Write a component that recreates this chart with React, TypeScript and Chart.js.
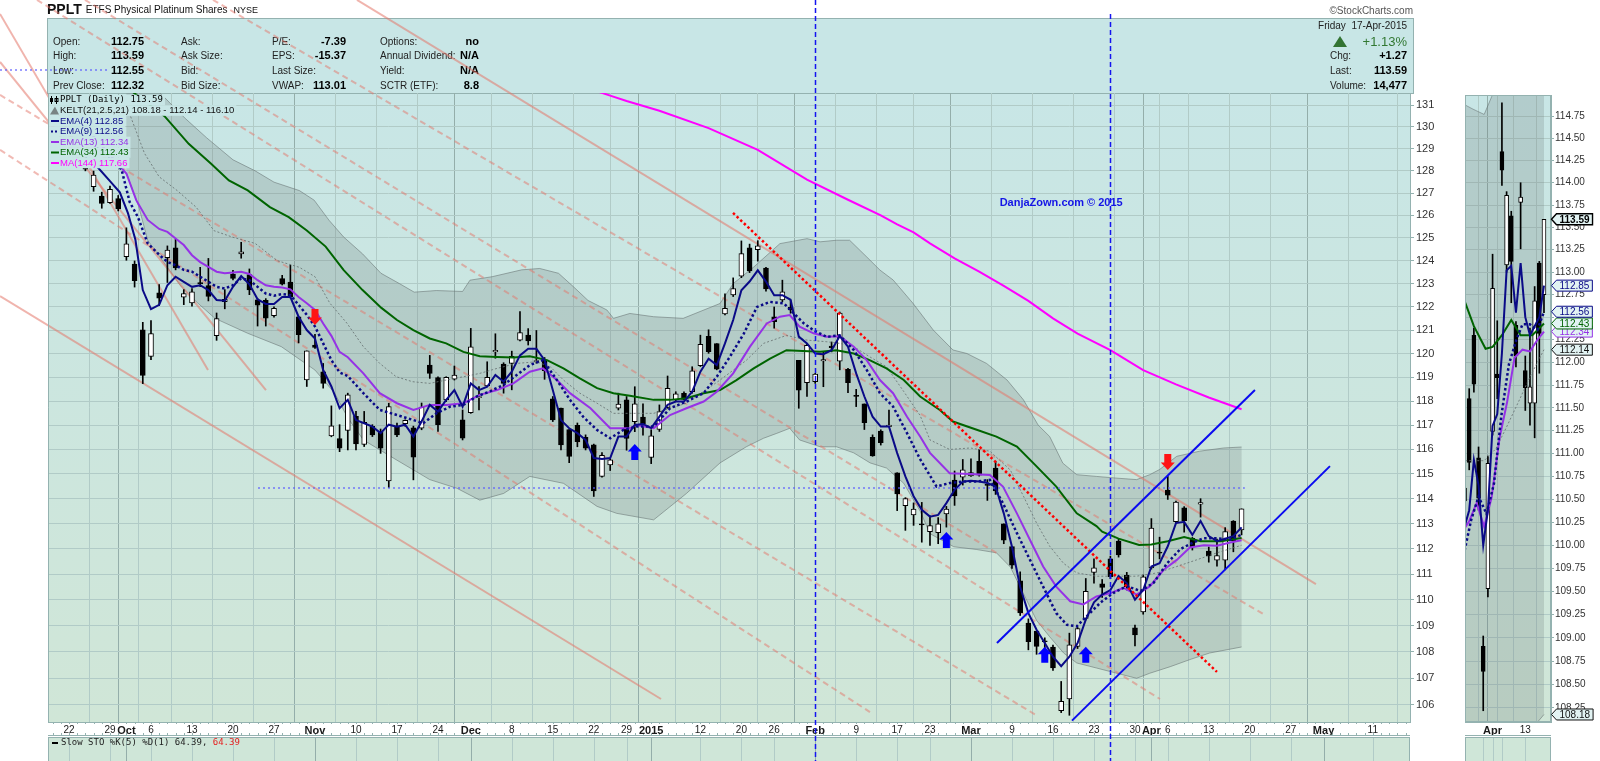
import React, { useEffect, useRef } from 'react';
import { Chart, registerables } from 'chart.js';

Chart.register(...registerables);

// ---------------- DATA ----------------
// trading-day index 0 = Mon 22-Sep-2014; candles start at index 2
const FIRST_INDEX = 2;
const opens = [
  128.12,127.29,126.86,126.57,126.75,124.18,123.85,121.01,119.88,122.6,
  124.13,124.56,122.41,122.16,123.04,122.91,120.76,122.22,123.41,124.3,
  123.39,122.3,122.28,121.62,123.22,123.07,121.56,118.88,120.36,119.23,
  116.56,116.45,116.78,117.37,116.21,116.95,116.74,114.72,116.95,117.06,
  116.89,116.88,119.51,118.98,118.05,118.92,117.22,117.52,118.14,118.63,
  120.07,119.55,119.58,120.57,120.78,119.65,119.72,118.09,117.71,116.82,
  116.99,116.5,116.19,114.9,115.37,117.7,118.05,117.14,117.33,115.67,
  116.82,117.74,118.05,118.32,118.39,119.49,120.73,120.42,121.69,122.51,
  123.32,124.57,124.49,123.68,121.57,122.29,121.97,119.71,118.77,118.81,
  119.69,120.31,119.68,119.33,118.24,117.88,116.5,116.76,116.94,115.05,
  113.72,113.35,112.98,112.68,112.64,113.39,114.75,114.87,114.92,115.51,
  114.58,115.24,112.99,112.09,110.74,109.1,108.79,108.42,108.18,105.77,
  106.21,108.2,109.28,111.07,110.62,111.6,112.3,110.95,108.91,109.53,
  111.24,111.87,114.35,113.08,113.63,112.41,113.78,111.91,111.55,111.55,
  113.1,112.75,
];
const highs = [
  128.24,127.99,127.04,127.31,126.89,125.45,123.99,121.33,121.4,122.96,
  124.65,124.94,122.74,122.78,123.71,124.1,121.73,122.74,123.58,124.81,
  123.64,122.35,122.35,122.0,123.36,123.81,121.59,120.11,120.82,119.58,
  117.8,117.02,118.33,117.57,117.57,117.02,116.84,117.91,117.09,117.22,
  116.96,117.92,119.92,119.02,119.02,119.47,117.63,121.07,118.61,119.65,
  120.84,119.61,120.1,121.79,121.06,120.98,119.83,118.19,117.71,116.82,
  117.09,116.6,116.22,115.87,115.61,118.33,118.19,118.6,117.88,116.81,
  117.84,119.05,118.39,118.39,119.44,120.78,121.01,120.42,122.56,123.25,
  124.87,124.73,124.88,123.71,121.99,123.15,122.27,119.71,120.43,119.16,
  120.06,120.49,121.77,119.37,118.49,117.88,116.6,116.81,117.63,115.05,
  114.04,113.83,113.85,113.31,113.24,113.69,115.12,115.59,115.62,116.0,
  114.77,115.52,112.99,112.09,111.09,109.26,108.79,108.53,108.25,106.87,
  108.71,108.93,110.83,111.6,110.79,111.71,112.38,111.07,109.02,110.97,
  113.2,112.46,114.9,113.9,113.68,112.45,114.0,112.07,112.38,112.84,
  113.12,113.59,
];
const lows = [
  128.0,127.08,126.32,126.54,126.2,124.02,122.85,118.73,119.74,122.05,
  123.05,123.6,122.09,122.02,122.87,122.25,120.56,121.91,123.16,124.11,
  122.52,121.17,121.17,121.55,122.94,122.38,120.45,118.61,120.22,118.54,
  116.52,115.91,115.98,115.98,116.12,116.53,115.84,114.45,116.53,116.95,
  114.76,116.81,118.95,116.74,117.98,118.88,116.39,117.49,117.63,118.6,
  119.8,118.33,118.47,120.53,120.36,119.59,118.91,117.15,115.98,115.46,
  116.11,115.98,114.09,114.87,115.14,117.63,115.97,116.73,116.59,115.42,
  116.74,117.7,117.98,118.05,118.33,119.45,120.01,119.31,121.65,122.44,
  123.26,123.48,123.98,122.67,121.08,122.22,121.72,117.7,118.19,118.74,
  118.6,120.07,119.31,118.35,117.77,116.82,115.72,116.18,116.94,113.52,
  112.73,112.93,112.26,112.13,112.2,112.86,113.73,114.55,114.9,114.91,
  113.93,114.17,112.2,111.22,109.39,108.07,107.9,108.04,107.29,105.7,
  105.6,108.12,109.22,110.65,110.09,110.82,111.67,110.38,108.22,109.44,
  111.2,111.6,113.97,113.0,112.66,111.95,113.26,111.47,111.31,111.17,
  111.88,112.55,
];
const closes = [
  128.08,127.81,126.53,127.17,126.29,124.74,123.13,119.07,120.85,122.37,
  124.47,123.68,122.57,122.64,122.99,122.44,121.49,122.32,123.23,124.39,
  122.73,122.07,121.51,121.93,122.98,122.43,120.8,120.11,120.26,118.74,
  116.97,116.05,118.26,116.23,117.12,116.6,116.05,117.77,116.6,117.2,
  115.68,117.75,119.16,117.02,118.99,119.09,116.46,120.28,118.19,118.99,
  120.13,118.74,119.88,120.89,120.54,119.7,119.27,117.22,116.19,115.71,
  116.32,116.05,114.31,115.76,115.58,117.87,116.45,117.88,117.05,116.56,
  117.56,118.53,118.3,118.07,119.27,120.39,120.08,119.34,121.93,122.79,
  124.31,123.55,124.65,122.77,121.36,122.64,121.86,118.46,120.35,119.13,
  119.74,120.25,121.73,118.77,118.19,117.1,115.74,116.28,117.0,114.19,
  114.0,113.58,112.95,112.92,112.99,113.58,114.11,115.17,115.06,114.95,
  114.54,114.31,112.34,111.35,109.49,108.38,108.2,108.38,107.38,106.12,
  108.26,108.89,110.33,111.25,110.48,110.9,111.76,110.51,108.64,110.89,
  112.82,111.83,114.14,113.86,113.12,112.07,113.84,111.72,111.73,112.68,
  112.32,113.59,
];

// overlay readings: [trading-day index, price]
const ema4: number[][] = [[2,128.6],[3.5,128.16],[5,127.54],[6.2,127.03],[7.2,126.09],[8.1,124.92],[9,122.72],[10,121.9],[11,122.08],[12,122.93],[13,123.3],[14,123.08],[15,122.86],[16,122.93],[17,122.72],[18,122.29],[19,122.26],[20,122.86],[21,123.33],[22,122.97],[23,122.32],[24,122.12],[25,122.12],[26,122.42],[27,122.42],[28,121.57],[29,121.0],[30,120.64],[31,119.3],[32,118.61],[33,117.7],[34,118.05],[35,117.21],[36,117.08],[37,116.94],[38,116.67],[39,117.02],[40,116.94],[41,117.02],[42,116.53],[43,117.15],[44,117.84],[45,117.56],[46,118.05],[47,118.46],[48,117.77],[49,118.74],[50,118.46],[51,118.6],[52,119.09],[53,118.81],[54,119.23],[55,119.92],[56,120.2],[57,120.2],[58,119.72],[59,118.46],[60,117.21],[61,116.87],[62,116.67],[63,116.39],[64,115.65],[65,115.61],[66,115.65],[67,116.53],[68,116.53],[69,117.01],[70,117.05],[71,116.88],[72,117.35],[73,117.84],[74,117.98],[75,117.98],[76,118.39],[77,119.23],[78,119.78],[79,119.51],[80,120.43],[81,121.43],[82,122.71],[83,123.09],[84,123.58],[85,123.09],[86,122.5],[87,122.5],[88,122.3],[89,120.72],[90,120.43],[91,120.0],[92,119.97],[93,120.14],[94,120.74],[95,120.29],[96,119.16],[97,118.19],[98,117.35],[99,116.94],[100,116.94],[101,115.85],[102,114.9],[103,114.1],[104,113.55],[105,113.28],[106,113.35],[107,113.82],[108,114.36],[109,114.69],[110,114.72],[111,114.69],[112,114.63],[113,114.49],[114,113.41],[115,112.08],[116,110.5],[117,109.48],[118,108.84],[119,108.33],[120,107.81],[121,107.45],[122,107.81],[123,108.33],[124,109.23],[125,109.9],[126,110.2],[127,110.38],[128,110.93],[129,110.65],[130,110.0],[131,110.38],[132,111.3],[133,111.43],[134,112.1],[135,113.02],[136,113.07],[137,112.55],[138,113.1],[139,112.5],[140,112.3],[141,112.4],[142,112.5],[143,112.85]];
const ema9: number[][] = [[2,129.5],[6.4,128.07],[7.4,126.6],[8.4,125.93],[9.6,124.76],[11,124.26],[12,123.95],[13,123.8],[14,123.6],[15,123.52],[16,123.3],[17,123.08],[18,122.86],[19,122.79],[20,122.93],[21,123.23],[22,123.15],[23,122.86],[24,122.57],[25,122.48],[26,122.55],[27,122.5],[28,122.08],[29,121.65],[30,121.15],[31,120.43],[32,119.72],[33,119.2],[34,119.05],[35.9,118.33],[37.9,117.63],[40,117.42],[42,117.21],[43.2,117.08],[44.8,117.49],[46.5,117.77],[48.1,117.84],[49.7,118.19],[51.3,118.4],[53,118.68],[54.6,119.09],[56.2,119.51],[57.8,119.72],[59.5,118.88],[61.1,118.05],[62.7,117.35],[64.4,116.8],[66,116.46],[67.6,116.8],[69.2,116.94],[71.3,116.94],[73.3,117.7],[75.3,117.98],[77.4,118.33],[79,119.02],[80.6,119.86],[82.3,120.85],[83.9,121.99],[85.5,122.21],[87.2,122.14],[88.4,121.71],[89.6,121.29],[90.8,120.99],[92.4,120.71],[94,120.77],[95.7,120.15],[97.3,119.3],[98.9,118.33],[100.5,117.77],[102.2,116.67],[103.8,115.6],[105.8,114.49],[107.4,114.63],[109.1,114.69],[110.7,114.69],[112.3,114.76],[113.9,113.82],[115.6,112.62],[117.2,111.56],[118.8,110.51],[120.4,109.48],[121.7,109.03],[122.9,108.97],[124.1,109.36],[125.8,109.89],[127.4,110.27],[129,110.53],[130.7,110.34],[132.3,110.67],[133.9,111.42],[135.5,111.98],[137.1,112.25],[138.4,112.42],[140,112.42],[141.6,112.36],[143,112.56]];
const ema13: number[][] = [[2,130.0],[7,127.88],[8.2,126.68],[9.6,125.8],[11,125.4],[12,125.27],[13,124.98],[14,124.69],[15,124.24],[16,123.94],[17,123.73],[18,123.52],[19,123.45],[20,123.48],[21,123.52],[22,123.42],[23,123.15],[24,122.93],[25,122.86],[26,122.83],[27,122.75],[28,122.42],[29,122.15],[30,121.86],[31,121.28],[32,120.75],[33,120.07],[34,119.84],[35.9,119.16],[37.9,118.33],[40,117.91],[42,117.63],[44,117.84],[46,117.84],[48.1,117.91],[50.1,118.26],[52.2,118.46],[54.2,118.74],[56.2,119.23],[57.8,119.37],[59.5,118.88],[61.1,118.33],[63.6,117.7],[66,116.87],[68.4,116.87],[69.2,117.01],[71.3,116.88],[73.3,117.42],[75.3,117.7],[77.4,117.98],[79,118.39],[81,119.16],[83.05,120.29],[85.1,121.28],[86.7,121.57],[87.9,121.64],[89.1,121.14],[90.8,120.86],[92.4,120.71],[94,120.73],[95.7,120.29],[97.3,119.71],[98.9,118.88],[100.5,118.33],[102.2,117.35],[103.8,116.53],[105,115.86],[107.4,115.03],[109.9,115.0],[112.3,114.96],[113.9,114.49],[115.6,113.41],[117.2,112.35],[118.8,111.3],[120.4,110.51],[122.1,109.94],[123.7,109.82],[125.3,110.13],[127,110.26],[128.6,110.46],[130.2,110.2],[131.8,110.52],[133.5,111.17],[135.1,111.56],[136.7,112.05],[138.4,112.14],[140,112.12],[141.6,112.25],[143,112.34]];
const ema34: number[][] = [[2,133.3],[11.65,130.5],[14.6,129.23],[17.3,128.33],[19.5,127.57],[21.8,127.12],[24.5,126.37],[26.8,125.92],[29,125.33],[31.3,124.62],[33.5,123.59],[35.8,122.72],[38.1,121.95],[40,121.43],[42,121.0],[44,120.64],[46,120.43],[48.1,120.07],[50.1,119.88],[52.2,119.85],[54.2,119.83],[56.2,119.88],[58.3,119.72],[60.3,119.37],[62.3,118.95],[64.4,118.54],[66.4,118.33],[68.4,118.22],[71.3,118.05],[73.3,118.05],[75.3,118.12],[77.4,118.33],[79.4,118.46],[81.4,118.88],[83.5,119.37],[85.5,119.78],[87.5,120.14],[89.5,120.11],[91.6,120.07],[93.6,120.14],[95.7,120.0],[97.7,119.71],[99.7,119.37],[101.8,118.88],[103.8,118.19],[106.2,117.63],[107.8,117.15],[110.7,116.81],[113.1,116.53],[115.6,116.12],[118,115.31],[120.4,114.49],[122.9,113.41],[125.3,112.9],[126,112.68],[128,112.4],[130.5,112.15],[132,112.17],[134,112.3],[136,112.47],[138,112.3],[140.5,112.3],[143,112.43]];
const ma144: number[][] = [[64,131.7],[66,131.45],[68,131.2],[72,130.75],[78,129.95],[84,128.95],[90,127.6],[95,126.7],[99,126.0],[101,125.6],[103,125.25],[105,124.76],[108,124.1],[111,123.52],[114,122.9],[117,122.25],[120,121.5],[123,120.85],[127,120.14],[131,119.3],[135,118.7],[139,118.15],[143,117.66]];
const keltUpper: number[][] = [[7,133.5],[10,132.0],[14.1,130.42],[16.8,129.5],[20,128.5],[22.7,128.0],[25,127.49],[28.1,127.11],[29.9,126.68],[31.7,125.79],[33.5,125.04],[35.8,124.3],[38.05,123.45],[40.3,123.0],[42.1,122.63],[44.8,122.7],[48,122.66],[48.9,123.15],[51.6,123.3],[55.2,123.6],[57.4,123.66],[59.7,123.45],[61.5,122.87],[63.3,122.27],[65.6,121.86],[66.4,121.5],[68.4,121.71],[71.3,121.57],[74.9,121.5],[79.4,122.14],[81,123.0],[83.5,123.72],[86.7,124.75],[90,124.97],[91.6,124.83],[93.6,124.9],[95.2,124.9],[97.3,124.16],[98.9,123.59],[100.5,123.16],[102.9,122.16],[105.4,121.0],[107.8,120.15],[109.5,120.0],[111.9,119.58],[114.4,118.88],[116.4,118.05],[118.2,117.0],[119.6,116.53],[121.2,115.44],[122.9,114.97],[125.3,114.9],[127.8,114.83],[130.2,114.77],[131.8,114.97],[133,115.18],[135.1,115.72],[137.9,115.93],[140.8,116.06],[143,116.1]];
const keltMid: number[][] = [[7,131.0],[9.2,128.8],[11,127.73],[13.2,127.11],[15.5,126.37],[17.7,125.32],[20,125.03],[22.7,124.76],[25.4,124.0],[28.1,123.71],[30,123.3],[31.8,122.16],[33.9,121.29],[35.9,120.29],[37.9,119.58],[39.9,119.02],[41.9,118.81],[44,118.74],[46,118.88],[48.1,119.02],[50.1,119.16],[52.2,119.37],[54.6,119.58],[57,119.65],[58.7,119.44],[60.3,118.88],[62.3,118.33],[64.4,117.91],[66.4,117.49],[68.4,117.49],[71.3,117.49],[75.3,117.91],[79.4,118.88],[82.6,119.71],[84.7,120.43],[87.5,120.77],[90,120.57],[92.4,120.5],[94,120.43],[95.7,120.29],[97.7,119.85],[99.7,119.44],[101.8,118.4],[103.8,117.4],[105,116.39],[107.4,116.0],[109.9,116.06],[112.3,115.93],[114.8,115.16],[116.4,114.1],[118,113.02],[119.6,112.1],[121.3,111.42],[122.9,111.05],[125.3,110.92],[127.8,110.92],[130.2,110.92],[132.7,111.05],[135.1,111.3],[137.5,111.56],[140,111.84],[143,112.14]];
const keltLower: number[][] = [[7,127.9],[8.5,126.4],[9.6,124.9],[13.7,122.86],[15.7,122.16],[17.8,121.5],[21.8,120.86],[25.9,120.29],[30,119.3],[32.4,118.33],[34,117.3],[35.9,116.39],[39.9,115.58],[44,114.77],[47.3,114.42],[50.1,113.94],[53,114.21],[56.2,114.9],[60.3,114.62],[64.4,113.69],[66.8,113.41],[71.3,113.15],[75.3,114.21],[79.4,115.45],[82.6,116.11],[84.7,116.46],[86.3,116.66],[87.9,116.87],[89.1,116.39],[91.6,116.11],[93.6,116.11],[95.7,115.86],[97.7,115.45],[99.7,115.24],[101.8,114.62],[103.8,113.5],[105,112.6],[107.9,112.08],[110.7,111.97],[113.1,111.84],[114.8,111.28],[116.4,110.24],[118,109.2],[119.6,108.57],[121.3,107.95],[122.9,107.57],[125.3,107.38],[127.8,107.18],[130.2,106.99],[131.8,107.18],[134.3,107.43],[136.7,107.7],[139.1,107.95],[143,108.18]];

// drawn trend lines: [idx1, price1, idx2, price2]
const pinkSolidLines = [[-8.41,135.3,16.95,119.3],[-8.41,133.02,24.02,118.46],[-8.41,122.46,72.2,106.21],[35.12,135.97,152.07,110.61]];
const pinkDashedLines = [[-3.9,135.97,133.05,106.21],[-8.41,131.48,117.93,105.61],[-8.41,128.95,97.68,105.72],[17.56,135.97,145.85,109.41],[1.95,135.97,113.5,111.76]];
const redDottedLines = [[80.98,126.11,140.0,107.23]];
const blueChannelLines = [[113.17,108.33,144.63,118.46],[122.32,105.4,153.78,115.32]];
const blueDottedLines = [[23.05,114.43,143.4,114.43],[-8.41,132.64,5.0,132.64]];
const blueDashedVerticals = [91, 127];
const upArrowIdx = [69, 107, 119, 124];
const upArrowPrice = [115.9, 112.35, 107.88, 107.88];
const downArrowIdx = [30, 134];
const downArrowPrice = [121.56, 115.49];
const watermark = { idx: 121.0, price: 126.55, text: 'DanjaZown.com \u00a9 2015' };

// axes
const dateTickIdx = [0,5,7,10,15,20,25,30,35,40,45,49,54,59,64,68,71,77,82,86,91,96,101,105,110,115,120,125,130,132,134,139,144,149,153,159];
const dateTickLabels = ['22','29','Oct','6','13','20','27','Nov','10','17','24','Dec','8','15','22','29','2015','12','20','26','Feb','9','17','23','Mar','9','16','23','30','Apr','6','13','20','27','May','11'];
const priceTicks = [106,107,108,109,110,111,112,113,114,115,116,117,118,119,120,121,122,123,124,125,126,127,128,129,130,131];
const insetTickIdx = [130,132,134,139];
const insetTickLabels = ['','Apr','','13'];
const insetPriceTicks = [108.25,108.5,108.75,109,109.25,109.5,109.75,110,110.25,110.5,110.75,111,111.25,111.5,111.75,112,112.25,112.5,112.75,113,113.25,113.5,113.75,114,114.25,114.5,114.75];
const MONTHS = new Set(['Oct','Nov','Dec','2015','Feb','Mar','Apr','May']);

// ---------------- STYLE ----------------
const SANS = '"Liberation Sans", Arial, sans-serif';
const NARROW = '"Liberation Sans Narrow", "Liberation Sans", Arial, sans-serif';
const MONO = '"DejaVu Sans Mono", "Liberation Mono", monospace';
const PANEL_TOP = 'rgb(200,230,230)';
const PANEL_BOTTOM = 'rgb(208,230,215)';
const GRID = 'rgb(177,203,199)';
const GRID_DARK = 'rgb(148,174,170)';
const FRAME = 'rgb(148,178,176)';
const NAVY = 'rgb(10,10,135)';
const PURPLE = 'rgb(150,50,230)';
const GREEN = 'rgb(0,100,0)';
const MAGENTA = 'rgb(255,0,255)';

const last = (a: number[][]) => a[a.length - 1][1];
const N = closes.length;
const candleIdx = closes.map((_, k) => FIRST_INDEX + k);
const xy = (pairs: number[][]) => pairs.map(([x, y]) => ({ x, y }));

function buildDatasets(bodyWidth: number, lw: number): any[] {
  return [
    { type: 'line', data: xy(ema4), borderColor: NAVY, borderWidth: lw, pointRadius: 0, order: 1 },
    { type: 'line', data: xy(ema9), borderColor: NAVY, borderWidth: lw + 0.5, borderDash: [2.5, 2.5], pointRadius: 0, order: 2 },
    { type: 'line', data: xy(ema13), borderColor: PURPLE, borderWidth: lw, pointRadius: 0, order: 3 },
    { type: 'line', data: xy(ema34), borderColor: GREEN, borderWidth: lw, pointRadius: 0, order: 4 },
    { type: 'line', data: xy(ma144), borderColor: MAGENTA, borderWidth: 2, pointRadius: 0, order: 5 },
    { type: 'line', data: xy(keltMid), borderColor: 'rgba(105,115,115,0.85)', borderWidth: 1, borderDash: [2, 2], pointRadius: 0, order: 6 },
    {
      type: 'bar', order: 11, grouped: false, barThickness: 1, borderWidth: 0, backgroundColor: '#000',
      data: candleIdx.map((x, k) => ({ x, y: [lows[k], highs[k]] })),
    },
    {
      type: 'bar', order: 10, grouped: false, barThickness: bodyWidth, borderWidth: 1, borderColor: '#000', borderSkipped: false, minBarLength: 1,
      backgroundColor: candleIdx.map((_, k) => (closes[k] >= opens[k] ? '#ffffff' : '#000000')),
      data: candleIdx.map((x, k) => ({ x, y: [Math.min(opens[k], closes[k]), Math.max(opens[k], closes[k])] })),
    },
  ];
}

function drawBand(chart: any) {
  const { ctx, chartArea: a } = chart;
  const sx = chart.scales.x, sy = chart.scales.y;
  ctx.save();
  ctx.beginPath(); ctx.rect(a.left, a.top, a.right - a.left, a.bottom - a.top); ctx.clip();
  ctx.beginPath();
  keltUpper.forEach(([i, v], k) => {
    const X = sx.getPixelForValue(i), Y = sy.getPixelForValue(v);
    if (k === 0) ctx.moveTo(X, Y); else ctx.lineTo(X, Y);
  });
  for (let k = keltLower.length - 1; k >= 0; k--) ctx.lineTo(sx.getPixelForValue(keltLower[k][0]), sy.getPixelForValue(keltLower[k][1]));
  ctx.closePath();
  ctx.fillStyle = 'rgba(108,120,120,0.24)';
  ctx.fill();
  ctx.strokeStyle = 'rgba(100,112,112,0.55)';
  ctx.lineWidth = 1;
  [keltUpper, keltLower].forEach((arr) => {
    ctx.beginPath();
    arr.forEach(([i, v], k) => {
      const X = sx.getPixelForValue(i), Y = sy.getPixelForValue(v);
      if (k === 0) ctx.moveTo(X, Y); else ctx.lineTo(X, Y);
    });
    ctx.stroke();
  });
  ctx.restore();
}

function strokeSegments(chart: any, segs: number[][], color: string, width: number, dash: number[]) {
  const { ctx } = chart;
  const sx = chart.scales.x, sy = chart.scales.y;
  ctx.save();
  ctx.strokeStyle = color; ctx.lineWidth = width; ctx.setLineDash(dash);
  segs.forEach(([x1, y1, x2, y2]) => {
    ctx.beginPath();
    ctx.moveTo(sx.getPixelForValue(x1), sy.getPixelForValue(y1));
    ctx.lineTo(sx.getPixelForValue(x2), sy.getPixelForValue(y2));
    ctx.stroke();
  });
  ctx.restore();
}

function drawArrow(ctx: any, x: number, y: number, up: boolean, color: string) {
  const s = up ? 1 : -1;
  ctx.fillStyle = color;
  ctx.beginPath();
  ctx.moveTo(x, y - 8 * s);
  ctx.lineTo(x + 7, y - 0.5 * s);
  ctx.lineTo(x + 3.5, y - 0.5 * s);
  ctx.lineTo(x + 3.5, y + 8 * s);
  ctx.lineTo(x - 3.5, y + 8 * s);
  ctx.lineTo(x - 3.5, y - 0.5 * s);
  ctx.lineTo(x - 7, y - 0.5 * s);
  ctx.closePath();
  ctx.fill();
}

function txt(ctx: any, s: string, x: number, y: number, font: string, color: string, align = 'left') {
  ctx.font = font; ctx.fillStyle = color; ctx.textAlign = align; ctx.textBaseline = 'middle';
  ctx.fillText(s, x, y);
}

const f2 = (v: number) => v.toFixed(2);

const mainPlugin = {
  id: 'mainDecor',
  beforeDraw(chart: any) {
    const { ctx, chartArea: a } = chart;
    const sx = chart.scales.x;
    ctx.save();
    ctx.fillStyle = '#ffffff';
    ctx.fillRect(0, 0, chart.width, chart.height);
    const g = ctx.createLinearGradient(0, a.top, 0, a.bottom);
    g.addColorStop(0, PANEL_TOP); g.addColorStop(1, PANEL_BOTTOM);
    ctx.fillStyle = g;
    ctx.fillRect(a.left, a.top, a.right - a.left, a.bottom - a.top);
    // lower (Slow STO) panel
    ctx.fillStyle = 'rgb(207,230,216)';
    ctx.fillRect(a.left, 737, a.right - a.left, chart.height - 737);
    ctx.lineWidth = 1;
    dateTickIdx.forEach((v, i) => {
      const x = Math.round(sx.getPixelForValue(v)) + 0.5;
      ctx.strokeStyle = MONTHS.has(dateTickLabels[i]) ? GRID_DARK : GRID;
      ctx.beginPath(); ctx.moveTo(x, 738); ctx.lineTo(x, chart.height); ctx.stroke();
    });
    ctx.strokeStyle = FRAME;
    ctx.strokeRect(a.left + 0.5, 737.5, a.right - a.left - 1, 40);
    // date strip
    ctx.beginPath(); ctx.moveTo(a.left, 735.5); ctx.lineTo(a.right, 735.5); ctx.stroke();
    for (let d = -2; d <= 163; d++) {
      const x = Math.round(sx.getPixelForValue(d)) + 0.5;
      ctx.beginPath(); ctx.moveTo(x, 722); ctx.lineTo(x, 724); ctx.moveTo(x, 733); ctx.lineTo(x, 735); ctx.stroke();
    }
    // title
    txt(ctx, 'PPLT', 47, 10, `bold 14px ${SANS}`, '#111');
    ctx.font = `bold 14px ${SANS}`;
    const tw = ctx.measureText('PPLT').width;
    const t2 = 'ETFS Physical Platinum Shares';
    txt(ctx, t2, 47 + tw + 4, 10.5, `10px ${SANS}`, '#111');
    ctx.font = `10px ${SANS}`;
    const t2w = ctx.measureText(t2).width;
    txt(ctx, 'NYSE', 47 + tw + 4 + t2w + 6, 10.5, `9px ${SANS}`, '#111');
    txt(ctx, '\u00a9StockCharts.com', 1413, 11, `10px ${SANS}`, '#555', 'right');
    // info panel
    ctx.fillStyle = PANEL_TOP;
    ctx.fillRect(47, 18, 1367, 75);
    ctx.strokeStyle = FRAME;
    ctx.strokeRect(47.5, 18.5, 1366, 75);
    const rows = [42, 56, 71, 86];
    const LBL = `10px ${SANS}`, VAL = `bold 11px ${SANS}`;
    const prev = closes[N - 2];
    const chg = closes[N - 1] - prev;
    const c1 = [['Open:', f2(opens[N - 1])], ['High:', f2(highs[N - 1])], ['Low:', f2(lows[N - 1])], ['Prev Close:', f2(prev)]];
    c1.forEach(([l, v], k) => { txt(ctx, l, 53, rows[k], LBL, '#222'); txt(ctx, v, 111, rows[k], VAL, '#000'); });
    ['Ask:', 'Ask Size:', 'Bid:', 'Bid Size:'].forEach((l, k) => txt(ctx, l, 181, rows[k], LBL, '#222'));
    const c3 = [['P/E:', '-7.39'], ['EPS:', '-15.37'], ['Last Size:', ''], ['VWAP:', '113.01']];
    c3.forEach(([l, v], k) => { txt(ctx, l, 272, rows[k], LBL, '#222'); txt(ctx, v, 346, rows[k], VAL, '#000', 'right'); });
    const c4 = [['Options:', 'no'], ['Annual Dividend:', 'N/A'], ['Yield:', 'N/A'], ['SCTR (ETF):', '8.8']];
    c4.forEach(([l, v], k) => { txt(ctx, l, 380, rows[k], LBL, '#222'); txt(ctx, v, 479, rows[k], VAL, '#000', 'right'); });
    txt(ctx, 'Friday  17-Apr-2015', 1407, 26, `10px ${SANS}`, '#222', 'right');
    ctx.fillStyle = 'rgb(50,115,50)';
    ctx.beginPath(); ctx.moveTo(1340, 36); ctx.lineTo(1347, 47); ctx.lineTo(1333, 47); ctx.closePath(); ctx.fill();
    txt(ctx, `+${((chg / prev) * 100).toFixed(2)}%`, 1407, 42, `13px ${SANS}`, 'rgb(50,120,50)', 'right');
    txt(ctx, 'Chg:', 1330, 56, LBL, '#222'); txt(ctx, `+${f2(chg)}`, 1407, 56, VAL, '#000', 'right');
    txt(ctx, 'Last:', 1330, 71, LBL, '#222'); txt(ctx, f2(closes[N - 1]), 1407, 71, VAL, '#000', 'right');
    txt(ctx, 'Volume:', 1330, 86, LBL, '#222'); txt(ctx, '14,477', 1407, 86, VAL, '#000', 'right');
    ctx.restore();
  },
  beforeDatasetsDraw(chart: any) {
    drawBand(chart);
    strokeSegments(chart, pinkDashedLines, 'rgba(228,118,105,0.5)', 2, [6, 4]);
    strokeSegments(chart, pinkSolidLines, 'rgba(228,118,105,0.55)', 2, []);
  },
  afterDatasetsDraw(chart: any) {
    const { ctx } = chart;
    const sx = chart.scales.x, sy = chart.scales.y;
    strokeSegments(chart, blueDottedLines, 'rgba(90,90,255,0.8)', 1.5, [2, 3]);
    strokeSegments(chart, redDottedLines, 'rgb(255,0,0)', 2.5, [2.5, 2.5]);
    strokeSegments(chart, blueChannelLines, 'rgb(10,10,240)', 2, []);
    ctx.save();
    upArrowIdx.forEach((v, k) => drawArrow(ctx, sx.getPixelForValue(v), sy.getPixelForValue(upArrowPrice[k]), true, 'rgb(0,0,255)'));
    downArrowIdx.forEach((v, k) => drawArrow(ctx, sx.getPixelForValue(v), sy.getPixelForValue(downArrowPrice[k]), false, 'rgb(255,20,20)'));
    txt(ctx, watermark.text, sx.getPixelForValue(watermark.idx), sy.getPixelForValue(watermark.price), `bold 11px ${SANS}`, 'rgb(20,20,230)', 'center');
    // legend rows
    const legend = [
      { t: `PPLT (Daily) ${f2(closes[N - 1])}`, c: '#000', f: `9px ${MONO}`, icon: 'candle', y: 100 },
      { t: `KELT(21,2.5,21) ${f2(last(keltLower))} - ${f2(last(keltMid))} - ${f2(last(keltUpper))}`, c: '#111', f: `9.5px ${SANS}`, icon: 'tri', y: 110.5 },
      { t: `EMA(4) ${f2(last(ema4))}`, c: NAVY, f: `9.5px ${SANS}`, icon: 'line', y: 121 },
      { t: `EMA(9) ${f2(last(ema9))}`, c: NAVY, f: `9.5px ${SANS}`, icon: 'dots', y: 131.5 },
      { t: `EMA(13) ${f2(last(ema13))}`, c: PURPLE, f: `9.5px ${SANS}`, icon: 'line', y: 142 },
      { t: `EMA(34) ${f2(last(ema34))}`, c: GREEN, f: `9.5px ${SANS}`, icon: 'line', y: 152.5 },
      { t: `MA(144) ${f2(last(ma144))}`, c: MAGENTA, f: `9.5px ${SANS}`, icon: 'line', y: 163 },
    ];
    legend.forEach((r) => {
      ctx.font = r.f;
      const w = ctx.measureText(r.t).width;
      ctx.fillStyle = PANEL_TOP;
      ctx.fillRect(48, r.y - 5.3, 12 + w + 2, 10.6);
      if (r.icon === 'line' || r.icon === 'dots') {
        ctx.strokeStyle = r.c; ctx.lineWidth = 2; ctx.setLineDash(r.icon === 'dots' ? [2, 2] : []);
        ctx.beginPath(); ctx.moveTo(51, r.y); ctx.lineTo(59, r.y); ctx.stroke(); ctx.setLineDash([]);
      } else if (r.icon === 'tri') {
        ctx.fillStyle = 'rgb(120,130,130)';
        ctx.beginPath(); ctx.moveTo(50, r.y + 4); ctx.lineTo(55, r.y - 4); ctx.lineTo(59, r.y + 4); ctx.closePath(); ctx.fill();
      } else {
        ctx.fillStyle = '#000';
        ctx.fillRect(51, r.y - 4, 1, 8); ctx.fillRect(50, r.y - 2, 3, 4);
        ctx.fillRect(56, r.y - 4, 1, 8); ctx.strokeStyle = '#000'; ctx.lineWidth = 1; ctx.strokeRect(55, r.y - 1.5, 3, 3);
      }
      txt(ctx, r.t, 60, r.y, r.f, r.c);
    });
    ctx.restore();
  },
  afterDraw(chart: any) {
    const { ctx, chartArea: a } = chart;
    const sx = chart.scales.x;
    ctx.save();
    ctx.strokeStyle = FRAME; ctx.lineWidth = 1;
    ctx.beginPath(); ctx.moveTo(a.left + 0.5, a.top); ctx.lineTo(a.left + 0.5, a.bottom); ctx.stroke();
    // Slow STO legend
    ctx.fillStyle = '#000'; ctx.fillRect(52, 742, 6, 2);
    const s1 = 'Slow STO %K(5) %D(1) 64.39, ';
    ctx.font = `9px ${MONO}`;
    const w1 = ctx.measureText(s1).width;
    txt(ctx, s1, 61, 743, `9px ${MONO}`, '#222');
    txt(ctx, '64.39', 61 + w1, 743, `9px ${MONO}`, 'rgb(230,30,30)');
    // dashed blue verticals
    ctx.strokeStyle = 'rgb(20,20,240)'; ctx.lineWidth = 1.5; ctx.setLineDash([5, 3]);
    blueDashedVerticals.forEach((v, k) => {
      const x = Math.round(sx.getPixelForValue(v)) + 0.5;
      ctx.beginPath(); ctx.moveTo(x, k === 0 ? 0 : 14); ctx.lineTo(x, chart.height); ctx.stroke();
    });
    ctx.restore();
  },
};

function drawTag(ctx: any, x: number, y: number, text: string, color: string, bold: boolean) {
  ctx.font = `${bold ? 'bold ' : ''}10px ${SANS}`;
  const w = ctx.measureText(text).width + 6;
  ctx.beginPath();
  ctx.moveTo(x, y); ctx.lineTo(x + 5, y - 5.5); ctx.lineTo(x + 5 + w, y - 5.5); ctx.lineTo(x + 5 + w, y + 5.5); ctx.lineTo(x + 5, y + 5.5); ctx.closePath();
  ctx.fillStyle = 'rgb(226,243,243)'; ctx.fill();
  ctx.strokeStyle = color; ctx.lineWidth = bold ? 1.4 : 1; ctx.stroke();
  ctx.fillStyle = color; ctx.textAlign = 'left'; ctx.textBaseline = 'middle';
  ctx.fillText(text, x + 8, y + 0.5);
}

const insetPlugin = {
  id: 'insetDecor',
  beforeDraw(chart: any) {
    const { ctx, chartArea: a } = chart;
    const sx = chart.scales.x;
    ctx.save();
    ctx.fillStyle = '#fff'; ctx.fillRect(0, 0, chart.width, chart.height);
    const g = ctx.createLinearGradient(0, a.top, 0, a.bottom);
    g.addColorStop(0, PANEL_TOP); g.addColorStop(1, PANEL_BOTTOM);
    ctx.fillStyle = g;
    ctx.fillRect(a.left, a.top, a.right - a.left, a.bottom - a.top);
    ctx.fillStyle = 'rgb(207,230,216)';
    ctx.fillRect(a.left, 649, a.right - a.left, chart.height - 649);
    ctx.strokeStyle = GRID; ctx.lineWidth = 1;
    insetTickIdx.forEach((v) => {
      const x = Math.round(sx.getPixelForValue(v)) + 0.5;
      ctx.beginPath(); ctx.moveTo(x, 650); ctx.lineTo(x, chart.height); ctx.stroke();
    });
    ctx.strokeStyle = FRAME;
    ctx.strokeRect(a.left + 0.5, 649.5, a.right - a.left - 1, 40);
    ctx.beginPath(); ctx.moveTo(a.left, 647.5); ctx.lineTo(a.right, 647.5); ctx.stroke();
    ctx.restore();
  },
  beforeDatasetsDraw(chart: any) { drawBand(chart); },
  afterDraw(chart: any) {
    const { ctx, chartArea: a } = chart;
    const sy = chart.scales.y;
    ctx.save();
    ctx.strokeStyle = FRAME; ctx.lineWidth = 1;
    ctx.strokeRect(a.left + 0.5, a.top + 0.5, a.right - a.left - 1, a.bottom - a.top - 1);
    const tags = [
      { v: last(keltLower), c: '#111', b: false },
      { v: last(keltMid), c: '#111', b: false },
      { v: last(ema13), c: PURPLE, b: false },
      { v: last(ema34), c: GREEN, b: false },
      { v: last(ema9), c: NAVY, b: false },
      { v: last(ema4), c: NAVY, b: false },
      { v: closes[N - 1], c: '#000', b: true },
    ];
    tags.forEach((t) => {
      let y = sy.getPixelForValue(t.v);
      y = Math.max(a.top + 6, Math.min(a.bottom - 7, y));
      drawTag(ctx, a.right + 0.5, y, f2(t.v), t.c, t.b);
    });
    ctx.restore();
  },
};

function mainConfig(): any {
  return {
    type: 'bar',
    data: { datasets: buildDatasets(5, 2) },
    plugins: [mainPlugin],
    options: {
      responsive: false, animation: false, devicePixelRatio: 1, events: [],
      layout: { padding: { left: 48, top: 93, right: 150, bottom: 26 } },
      plugins: { legend: { display: false }, tooltip: { enabled: false }, title: { display: false } },
      scales: {
        x: {
          type: 'linear', min: -2.56, max: 163.54, offset: false,
          afterBuildTicks: (s: any) => { s.ticks = dateTickIdx.map((v) => ({ value: v })); },
          afterFit: (s: any) => { s.height = 13; },
          ticks: {
            autoSkip: false, maxRotation: 0, minRotation: 0, padding: 2, color: '#1a1a1a',
            font: (c: any) => (MONTHS.has(dateTickLabels[c.index]) ? { family: NARROW, size: 11, weight: 'bold' } : { family: SANS, size: 10 }),
            callback: (_v: any, i: number) => dateTickLabels[i],
          },
          grid: { drawTicks: false, color: (c: any) => (MONTHS.has(dateTickLabels[c.index]) ? GRID_DARK : GRID), lineWidth: 1 },
          border: { display: true, color: FRAME },
        },
        y: {
          type: 'logarithmic', position: 'right', min: 105.35, max: 131.57,
          afterBuildTicks: (s: any) => { s.ticks = priceTicks.map((v) => ({ value: v })); },
          afterFit: (s: any) => { s.width = 40; },
          ticks: { padding: 2, color: '#333', font: { family: SANS, size: 11 }, callback: (v: any) => String(v) },
          grid: { color: GRID, tickLength: 4, tickColor: FRAME },
          border: { display: true, color: FRAME },
        },
      },
    },
  };
}

function insetConfig(): any {
  return {
    type: 'bar',
    data: { datasets: buildDatasets(4, 2) },
    plugins: [insetPlugin],
    options: {
      responsive: false, animation: false, devicePixelRatio: 1, events: [],
      layout: { padding: { left: 5, top: 5, right: 0, bottom: 26 } },
      plugins: { legend: { display: false }, tooltip: { enabled: false }, title: { display: false } },
      scales: {
        x: {
          type: 'linear', min: 126.1, max: 144.5, offset: false,
          afterBuildTicks: (s: any) => { s.ticks = insetTickIdx.map((v) => ({ value: v })); },
          afterFit: (s: any) => { s.height = 13; },
          ticks: {
            autoSkip: false, maxRotation: 0, minRotation: 0, padding: 2, color: '#1a1a1a',
            font: (c: any) => (MONTHS.has(insetTickLabels[c.index]) ? { family: NARROW, size: 11, weight: 'bold' } : { family: SANS, size: 10 }),
            callback: (_v: any, i: number) => insetTickLabels[i],
          },
          grid: { drawTicks: false, color: (c: any) => (MONTHS.has(insetTickLabels[c.index]) ? GRID_DARK : GRID) },
          border: { display: true, color: FRAME },
        },
        y: {
          type: 'logarithmic', position: 'right', min: 108.145, max: 114.99,
          afterBuildTicks: (s: any) => { s.ticks = insetPriceTicks.map((v) => ({ value: v })); },
          afterFit: (s: any) => { s.width = 49; },
          ticks: { padding: 1, color: '#333', font: { family: SANS, size: 10 }, callback: (v: any) => Number(v).toFixed(2) },
          grid: { color: GRID, tickLength: 3, tickColor: FRAME },
          border: { display: true, color: FRAME },
        },
      },
    },
  };
}

export default function App() {
  const mainRef = useRef<HTMLCanvasElement>(null);
  const insetRef = useRef<HTMLCanvasElement>(null);
  useEffect(() => {
    const c1 = new Chart(mainRef.current as HTMLCanvasElement, mainConfig());
    const c2 = new Chart(insetRef.current as HTMLCanvasElement, insetConfig());
    return () => { c1.destroy(); c2.destroy(); };
  }, []);
  return (
    <div style={{ position: 'absolute', left: 0, top: 0, width: 1600, height: 761, background: '#fff', overflow: 'hidden' }}>
      <canvas ref={mainRef} width={1600} height={761} style={{ position: 'absolute', left: 0, top: 0 }} />
      <canvas ref={insetRef} width={140} height={673} style={{ position: 'absolute', left: 1460, top: 88 }} />
    </div>
  );
}
